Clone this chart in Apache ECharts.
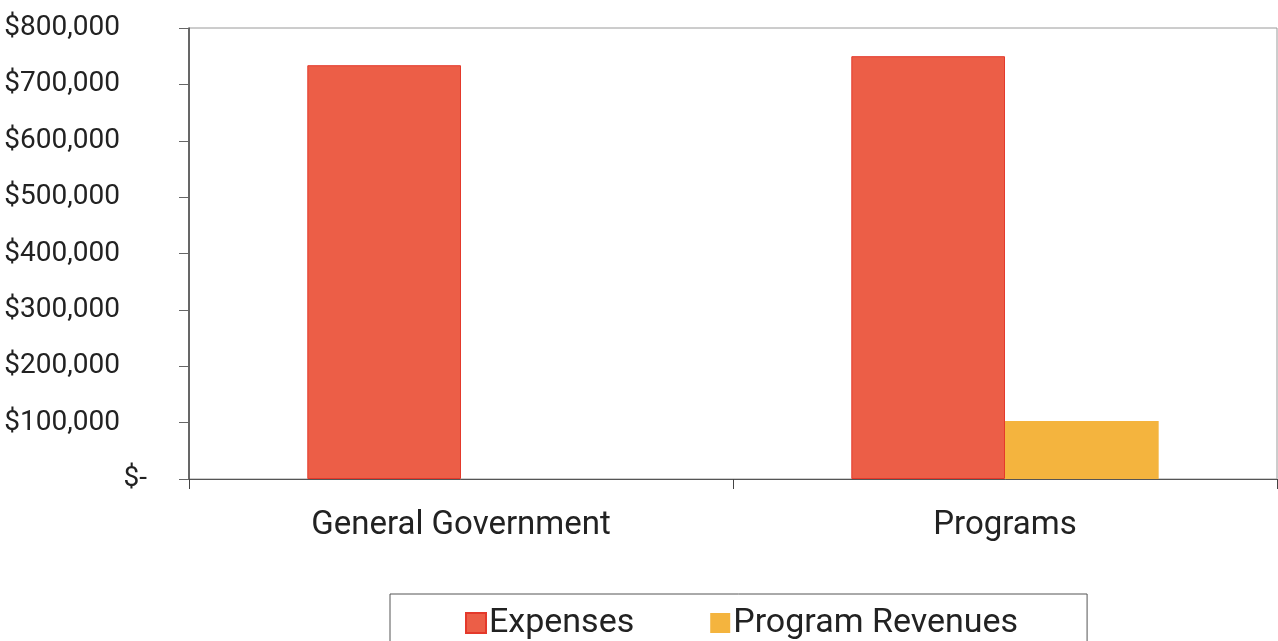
<!DOCTYPE html>
<html>
<head>
<meta charset="utf-8">
<script src="https://cdn.jsdelivr.net/npm/echarts@6/dist/echarts.min.js"></script>
<style>
html,body{margin:0;padding:0;background:#fff;}
#chart{width:1278px;height:641px;}
</style>
</head>
<body>
<div id="chart"></div>
<script>
const categories = ["General Government", "Programs"];
const expenses = [734000, 750000];
const programRevenues = [0, 103000];
const seriesNames = ["Expenses", "Program Revenues"];
const yMin = 0, yMax = 800000, yStep = 100000;

const chart = echarts.init(document.getElementById('chart'));
const font = 'Roboto';
chart.setOption({
  animation: false,
  backgroundColor: '#ffffff',
  textStyle: { fontFamily: font },
  grid: {
    left: 189, right: 1, top: 28, bottom: 162,
    show: true, borderColor: '#9a9a9a', borderWidth: 1,
    containLabel: false
  },
  legend: {
    data: seriesNames,
    left: 390, top: 594,
    padding: [12, 69, 14, 75],
    borderColor: '#555', borderWidth: 1,
    itemWidth: 20, itemHeight: 20, itemGap: 76,
    icon: 'rect',
    textStyle: { fontFamily: font, fontSize: 34, color: '#222', padding: [0, 0, 0, -2] }
  },
  xAxis: {
    type: 'category',
    data: categories,
    axisLine: { show: true, lineStyle: { color: '#555', width: 1 } },
    axisTick: { show: true, alignWithLabel: false, length: 10, lineStyle: { color: '#444' } },
    axisLabel: { fontFamily: font, fontSize: 33, color: '#222', margin: 30 },
    splitLine: { show: false }
  },
  yAxis: {
    type: 'value',
    min: yMin, max: yMax, interval: yStep,
    axisLine: { show: true, lineStyle: { color: '#444', width: 1.5 } },
    axisTick: { show: true, length: 10, lineStyle: { color: '#666' } },
    axisLabel: {
      fontFamily: font, fontSize: 28, color: '#222', margin: 42, align: 'right',
      formatter: v => v === 0 ? '{z|$-}' : '{n|$' + v.toLocaleString('en-US') + '}',
      rich: {
        z: { fontFamily: font, fontSize: 28, color: '#222' },
        n: { fontFamily: font, fontSize: 28, color: '#222', padding: [0, 27, 0, 0] }
      }
    },
    splitLine: { show: false }
  },
  series: [
    {
      name: seriesNames[0], type: 'bar', data: expenses,
      barGap: '0%', barCategoryGap: '43.5%',
      itemStyle: { color: '#EC5E47', borderColor: '#E4392B', borderWidth: 1 }
    },
    {
      name: seriesNames[1], type: 'bar', data: programRevenues,
      itemStyle: { color: '#F4B43E', borderWidth: 0 }
    }
  ]
});
</script>
</body>
</html>
